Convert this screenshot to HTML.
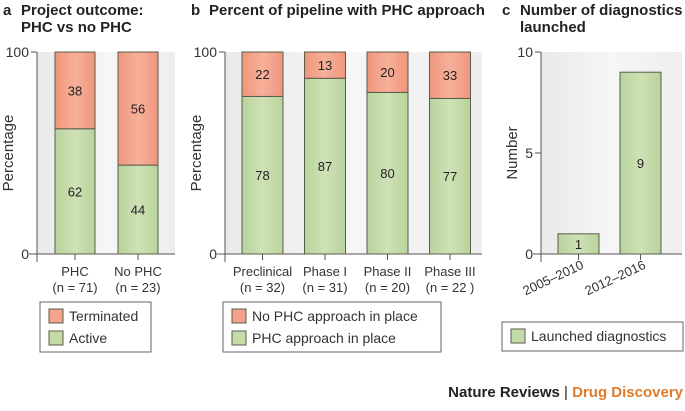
<!DOCTYPE html>
<html><head><meta charset="utf-8"><style>
body{margin:0;background:#fff;font-family:"Liberation Sans",sans-serif;}
svg text{font-family:"Liberation Sans",sans-serif;}
</style></head><body>
<svg id="c" width="685" height="406" xmlns="http://www.w3.org/2000/svg">
<defs><linearGradient id="bg" x1="0" x2="1"><stop offset="0" stop-color="#e9e9e9"/><stop offset="0.5" stop-color="#f6f6f6"/><stop offset="1" stop-color="#eeeeee"/></linearGradient>
<linearGradient id="gg" x1="0" x2="1"><stop offset="0" stop-color="#b8d39c"/><stop offset="0.5" stop-color="#cfe1b6"/><stop offset="1" stop-color="#b8d39c"/></linearGradient>
<linearGradient id="rg" x1="0" x2="1"><stop offset="0" stop-color="#f0967c"/><stop offset="0.5" stop-color="#f6b09a"/><stop offset="1" stop-color="#f0967c"/></linearGradient></defs>
<g id="g"></g>
</svg>
<script>
const aCats=["PHC","No PHC"], aN=["71","23"], aActive=[62,44], aTerm=[38,56];
const bCats=["Preclinical","Phase I","Phase II","Phase III"], bN=["32","31","20","22 "], bIn=[78,87,80,77], bNo=[22,13,20,33];
const cCats=["2005–2010","2012–2016"], cVals=[1,9];
const cTicks=[0,5,10];
const NS="http://www.w3.org/2000/svg", G=document.getElementById('g');
function el(t,a,txt,name,inter){const e=document.createElementNS(NS,t);for(const k in a)e.setAttribute(k,a[k]);if(txt!==undefined)e.textContent=txt;


G.appendChild(e);return e;}
const Y0=254,Y1=52;
function yS(v,max){return Y0-(v/max)*(Y0-Y1);}
function title(x,letter,lines){el('text',{x:x,y:15,'font-size':15,'font-weight':'bold',fill:'#222'},letter,'panel-letter');
lines.forEach((l,i)=>el('text',{x:x+18,y:15+i*17,'font-size':15,'font-weight':'bold',fill:'#222'},l,'panel-title'));}
function axis(ax,right,ticks,max,label){
 el('rect',{x:ax,y:Y1,width:right-ax,height:Y0-Y1,fill:'url(#bg)'},undefined,'plot-background');
 el('line',{x1:ax,y1:Y1,x2:ax,y2:Y0+8,stroke:'#555','stroke-width':1},undefined,'y-axis');
 el('line',{x1:ax-8,y1:Y0,x2:right,y2:Y0,stroke:'#555','stroke-width':1},undefined,'x-axis');
 ticks.forEach(t=>{const y=yS(t,max);el('line',{x1:ax-6,y1:y,x2:ax,y2:y,stroke:'#555'},undefined,'y-tick');
 el('text',{x:ax-8,y:y+5,'font-size':14,'text-anchor':'end',fill:'#333'},String(t),'y-tick-label');});
 el('text',{transform:`translate(${ax-24},${(Y0+Y1)/2}) rotate(-90)`,'font-size':15,'text-anchor':'middle',fill:'#333'},label,'y-axis-title');}
function stacked(x0,step,w,cats,ns,low,high){
 cats.forEach((c,i)=>{const x=x0+i*step, cx=x+w/2;
  const ym=yS(low[i],100);
  el('rect',{x:x,y:ym,width:w,height:Y0-ym,fill:'url(#gg)',stroke:'#5b5b4b','stroke-width':1},undefined,'bar-active');
  el('rect',{x:x,y:Y1,width:w,height:ym-Y1,fill:'url(#rg)',stroke:'#5b5b4b','stroke-width':1},undefined,'bar-terminated');
  el('text',{x:cx,y:(ym+Y0)/2+5,'font-size':13,'text-anchor':'middle',fill:'#222'},String(low[i]),'value-label');
  el('text',{x:cx,y:(ym+Y1)/2+5,'font-size':13,'text-anchor':'middle',fill:'#222'},String(high[i]),'value-label');
  el('line',{x1:cx,y1:Y0,x2:cx,y2:Y0+6,stroke:'#555'},undefined,'x-tick');
  el('text',{x:cx,y:Y0+22,'font-size':13,'text-anchor':'middle',fill:'#333'},c,'x-tick-label');
  el('text',{x:cx,y:Y0+38,'font-size':13,'text-anchor':'middle',fill:'#333'},`(n = ${ns[i]})`,'x-tick-sublabel');});}
function legend(x,y,w,h,items){el('rect',{x:x,y:y,width:w,height:h,fill:'#fff',stroke:'#666'},undefined,'legend-box');
 items.forEach((it,i)=>{el('rect',{x:x+9,y:y+7+i*22,width:14,height:14,fill:it[1],stroke:'#5b5b4b'},undefined,'legend-swatch');
 el('text',{x:x+29,y:y+19+i*22,'font-size':14,fill:'#333'},it[0],'legend-entry');});}
// a
title(3,'a',['Project outcome:','PHC vs no PHC']);
axis(37,175,[0,100],100,'Percentage');
stacked(55,63,40,aCats,aN,aActive,aTerm);
legend(40,302,111,50,[['Terminated','#f4a38a'],['Active','#c5dba8']]);
// b
title(191,'b',['Percent of pipeline with PHC approach']);
axis(225,482,[0,100],100,'Percentage');
stacked(242,62.5,41,bCats,bN,bIn,bNo);
legend(223,302,218,50,[['No PHC approach in place','#f4a38a'],['PHC approach in place','#c5dba8']]);
// c
title(502,'c',['Number of diagnostics','launched']);
axis(541,682,cTicks,10,'Number');
cCats.forEach((c,i)=>{const x=558+i*62,w=41,cx=x+w/2,y=yS(cVals[i],10);
 el('rect',{x:x,y:y,width:w,height:Y0-y,fill:'url(#gg)',stroke:'#5b5b4b'},undefined,'bar-launched');
 el('text',{x:cx,y:(y+Y0)/2+5,'font-size':13,'text-anchor':'middle',fill:'#222'},String(cVals[i]),'value-label');
 el('line',{x1:cx,y1:Y0,x2:cx,y2:Y0+6,stroke:'#555'},undefined,'x-tick');
 el('text',{transform:`translate(${cx+6},${Y0+14}) rotate(-25)`,'font-size':13,'text-anchor':'end',fill:'#333'},c,'x-tick-label');});
legend(502,322,181,29,[['Launched diagnostics','#c5dba8']]);
// footer
const f=el('text',{x:683,y:397,'font-size':15,'font-weight':'bold','text-anchor':'end',fill:'#222'},'','footer-credit');
f.innerHTML='Nature Reviews <tspan font-weight="normal">|</tspan> <tspan fill="#e07b2a">Drug Discovery</tspan>';
</script>
</body></html>
